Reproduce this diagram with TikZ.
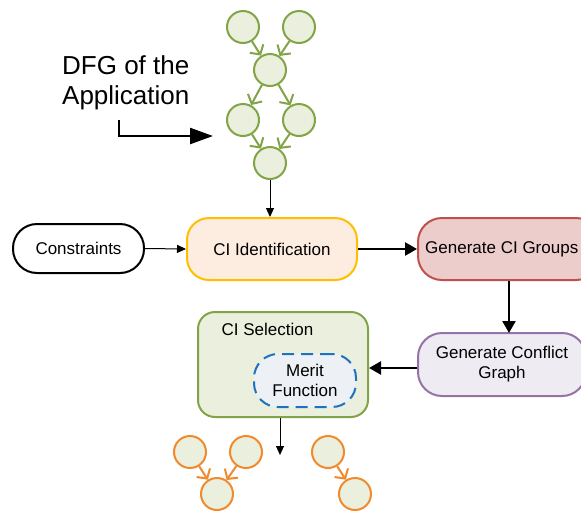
\documentclass[tikz,border=0pt]{standalone}
\usepackage{fontspec}
\setmainfont{Liberation Sans}
\usetikzlibrary{arrows.meta}
\definecolor{gstroke}{HTML}{82A447}
\definecolor{gfill}{HTML}{EBEFDD}
\definecolor{ostroke}{HTML}{F08A2C}
\definecolor{yfill}{HTML}{FDEDE1}
\definecolor{ystroke}{HTML}{FFBF00}
\definecolor{rfill}{HTML}{EDCDCC}
\definecolor{rstroke}{HTML}{C0504D}
\definecolor{pfill}{HTML}{EFEBF3}
\definecolor{pstroke}{HTML}{9673A6}
\definecolor{bstroke}{HTML}{1F72BE}
\definecolor{bfill}{HTML}{EDF0F5}
\tikzset{
  x=1pt, y=-1pt,
  txt/.style={font=\fontsize{17}{20}\selectfont, align=center, text=black},
  box/.style={txt, draw, line width=2pt, inner sep=0pt},
  gcirc/.style={circle, draw=gstroke, fill=gfill, line width=2pt, minimum size=32pt, inner sep=0pt},
  ocirc/.style={circle, draw=ostroke, fill=gfill, line width=2pt, minimum size=32pt, inner sep=0pt},
  garr/.style={draw=gstroke, line width=2pt, -{Straight Barb[length=7pt,width=16pt,line width=2pt]}},
  oarr/.style={draw=ostroke, line width=2pt, -{Straight Barb[length=7pt,width=16pt,line width=2pt]}},
  thinarr/.style={draw=black, line width=1pt, -{Triangle[length=9pt,width=8pt]}},
  thickarr/.style={draw=black, line width=2.4pt, -{Triangle[length=12pt,width=13pt]}}
}
\begin{document}
\begin{tikzpicture}
\clip (0,0) rectangle (581,512);
\fill[white] (0,0) rectangle (581,512);

% DFG top
\node[gcirc] (d1) at (243,27) {};
\node[gcirc] (d2) at (299,27) {};
\node[gcirc] (d3) at (270,70) {};
\node[gcirc] (d4) at (243,120) {};
\node[gcirc] (d5) at (299,120) {};
\node[gcirc] (d6) at (270,163) {};
\draw[garr] (d1) -- (d3);
\draw[garr] (d2) -- (d3);
\draw[garr] (d3) -- (d4);
\draw[garr] (d3) -- (d5);
\draw[garr] (d4) -- (d6);
\draw[garr] (d5) -- (d6);

% label
\node[anchor=base west, font=\fontsize{26}{30}\selectfont, align=left, inner sep=0pt] (lbl1) at (62,74) {DFG of the};
\node[anchor=base west, font=\fontsize{26}{30}\selectfont, align=left, inner sep=0pt] (lbl2) at (62,104) {Application};
\coordinate (bstart) at (119,120);
\coordinate (bend) at (213,136);
\draw[line width=2.4pt, -{Triangle[length=23pt,width=16pt]}] (bstart) |- (bend);

% boxes
\node[box, fill=white, rounded corners=24pt, minimum width=131pt, minimum height=49pt] (cons) at (78.5,248.5) {Constraints};
\node[box, draw=ystroke, fill=yfill, rounded corners=22pt, minimum width=170pt, minimum height=62pt] (ciid) at (272,249) {CI Identification};
\node[box, draw=rstroke, fill=rfill, rounded corners=24pt, minimum width=182pt, minimum height=62pt] (grp) at (509,249) {};
\node[txt, anchor=west, inner sep=0pt] (grpt) at (425,249) {Generate CI Groups};
\node[box, draw=pstroke, fill=pfill, rounded corners=24pt, minimum width=168pt, minimum height=63pt] (conf) at (502,364.5) {Generate Conflict\\Graph};
\node[box, draw=gstroke, fill=gfill, rounded corners=17pt, minimum width=170pt, minimum height=105pt] (cisel) at (283,364.5) {};
\node[txt, inner sep=0pt] (ciselt) at (267.5,329) {CI Selection};
\node[box, draw=bstroke, fill=bfill, dashed, dash pattern=on 12pt off 7pt, rounded corners=24pt, minimum width=102pt, minimum height=53pt] (merit) at (305,380.5) {Merit\\Function};

% connectors
\draw[thinarr] (d6) -- (ciid.north -| d6);
\draw[thinarr] (cons.east) -- (ciid.west);
\draw[thickarr] (ciid.east) -- (grp.west);
\coordinate (grpb) at (509,333);
\draw[thickarr] (grp.south) -- (grpb);
\draw[thickarr] (conf.west |- 0,368) -- (cisel.east |- 0,368);
\coordinate (selout) at (280,455);
\draw[thinarr] (cisel.south -| selout) -- (selout);

% output DFGs
\node[ocirc] (o1) at (190,452) {};
\node[ocirc] (o2) at (246,452) {};
\node[ocirc] (o3) at (217,494) {};
\node[ocirc] (o4) at (328,452) {};
\node[ocirc] (o5) at (355,494) {};
\draw[oarr] (o1) -- (o3);
\draw[oarr] (o2) -- (o3);
\draw[oarr] (o4) -- (o5);
\end{tikzpicture}
\end{document}
